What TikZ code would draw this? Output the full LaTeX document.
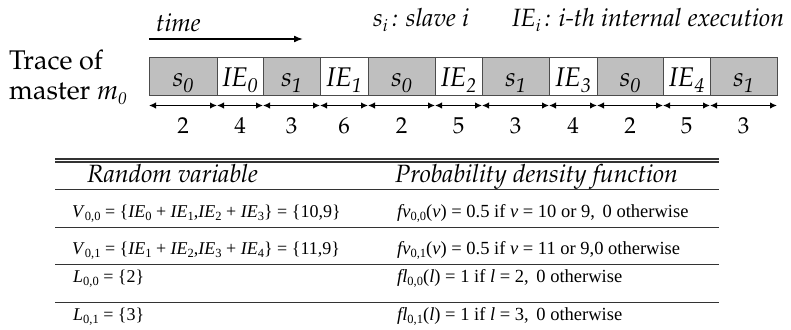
\documentclass[tikz,border=0pt]{standalone}
\usepackage{fontspec}
\setmainfont{Liberation Serif}
\usetikzlibrary{arrows.meta}
\newcommand\pal{\fontencoding{T1}\fontfamily{ppl}\selectfont}
\newcommand\tsub[1]{\raisebox{-3pt}{\fontsize{12.5}{12.5}\selectfont #1}}
\newcommand\psub[1]{\raisebox{-5pt}{\fontsize{17}{17}\selectfont\itshape #1}}
\newcommand\bsub[1]{\raisebox{-6pt}{\fontsize{20}{20}\selectfont\itshape #1}}
\begin{document}
\begin{tikzpicture}[x=1pt,y=-1pt,
  seg/.style={draw=black!70,line width=0.9pt},
  sbox/.style={seg,fill=black!25},
  ibox/.style={seg,fill=white},
  dim/.style={{Latex[length=7pt,width=6.5pt]}-{Latex[length=7pt,width=6.5pt]},line width=1.5pt},
  lbl/.style={inner sep=0pt,font=\pal\fontsize{27}{27}\selectfont\itshape},
  num/.style={inner sep=0pt,font=\pal\fontsize{23}{23}\selectfont},
  toptext/.style={inner sep=0pt,anchor=base west,font=\pal\fontsize{25}{25}\selectfont\itshape},
  rule/.style={line width=1pt,draw=black!80},
  cell/.style={inner sep=0pt,anchor=base west,font=\fontsize{18}{18}\selectfont},
  cellb/.style={inner sep=0pt,anchor=base west,font=\fontsize{18.5}{18.5}\selectfont},
  head/.style={inner sep=0pt,anchor=base west,font=\pal\fontsize{25}{25}\selectfont\itshape}]
\useasboundingbox (0,0) rectangle (791,329);
% legend
\node[toptext] (time) at (156,31) {time};
\coordinate (ta) at (149,39);
\coordinate (tb) at (303,39);
\draw[-{Latex[length=9pt,width=7pt]},line width=1.5pt] (ta) -- (tb);
\node[toptext] (slv) at (373,27) {s\psub{i}\,: slave i};
\node[toptext] (iex) at (512,27) {IE\psub{i}\,: i-th internal execution};
\node[inner sep=0pt,anchor=base west,font=\pal\fontsize{27}{27}\selectfont] (tr1) at (9,69) {Trace of};
\node[inner sep=0pt,anchor=base west,font=\pal\fontsize{27}{27}\selectfont] (tr2) at (9,99) {master \textit{m}\psub{0}};
% boxes
\foreach \a/\b/\st/\t/\s/\n [count=\k] in {
  149/217/sbox/s/0/2, 217/263/ibox/IE/0/4, 263/320/sbox/s/1/3, 320/368/ibox/IE/1/6,
  368/435/sbox/s/0/2, 435/482/ibox/IE/2/5, 482/549/sbox/s/1/3, 549/597/ibox/IE/3/4,
  597/663/sbox/s/0/2, 663/710/ibox/IE/4/5, 710/777/sbox/s/1/3}{
  \node[\st,minimum width={\b-\a},minimum height=38,inner sep=0pt,anchor=north west] (b\k) at (\a,57) {};
  \node[lbl,anchor=base] (bl\k) at ({(\a+\b)/2},86) {\t\bsub{\s}};
  \coordinate (l\k) at (\a,105.5);
  \coordinate (r\k) at (\b,105.5);
  \draw[dim] (l\k) -- (r\k);
  \node[num,anchor=base] (n\k) at ({(\a+\b)/2},133) {\n};
}
% table
\coordinate (t0a) at (55,159); \coordinate (t0b) at (719,159);
\coordinate (t1a) at (55,162); \coordinate (t1b) at (719,162);
\draw[line width=1.5pt,black!80] (t0a) -- (t0b);
\draw[line width=1.5pt,black!80] (t1a) -- (t1b);
\foreach \y [count=\k] in {189,227,264,302}{
  \coordinate (ra\k) at (55,\y); \coordinate (rb\k) at (719,\y);
  \draw[rule] (ra\k) -- (rb\k);
}
\node[head] (h1) at (87,182) {Random variable};
\node[head] (h2) at (395,182) {Probability density function};
\node[cell] (c11) at (72,217) {\textit{V}\tsub{0,0} = \{\textit{IE}\tsub{0} + \textit{IE}\tsub{1},\textit{IE}\tsub{2} + \textit{IE}\tsub{3}\} = \{10,9\}};
\node[cell] (c21) at (72,254) {\textit{V}\tsub{0,1} = \{\textit{IE}\tsub{1} + \textit{IE}\tsub{2},\textit{IE}\tsub{3} + \textit{IE}\tsub{4}\} = \{11,9\}};
\node[cell] (c31) at (73,282) {\textit{L}\tsub{0,0} = \{2\}};
\node[cell] (c41) at (73,320) {\textit{L}\tsub{0,1} = \{3\}};
\node[cellb] (c12) at (397,217) {\textit{fv}\tsub{0,0}(\textit{v}) = 0.5 if \textit{v} = 10 or 9,\, 0 otherwise};
\node[cellb] (c22) at (397,254) {\textit{fv}\tsub{0,1}(\textit{v}) = 0.5 if \textit{v} = 11 or 9,0 otherwise};
\node[cellb] (c32) at (397,282) {\textit{fl}\tsub{0,0}(\textit{l}) = 1 if \textit{l} = 2,\, 0 otherwise};
\node[cellb] (c42) at (397,320) {\textit{fl}\tsub{0,1}(\textit{l}) = 1 if \textit{l} = 3,\, 0 otherwise};
\end{tikzpicture}
\end{document}
